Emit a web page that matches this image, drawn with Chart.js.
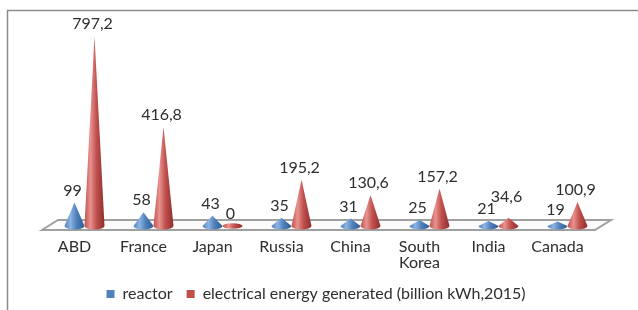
<!DOCTYPE html>
<html>
<head>
<meta charset="utf-8">
<script src="https://cdn.jsdelivr.net/npm/chart.js@4.4.1/dist/chart.umd.min.js"></script>
<style>
  html, body { margin: 0; padding: 0; background: #fff; }
  #wrap { width: 638px; height: 310px; }
</style>
</head>
<body>
<div id="wrap"><canvas id="chart"></canvas></div>
<script>
// values
const categories = ["ABD", "France", "Japan", "Russia", "China", ["South", "Korea"], "India", "Canada"];
const reactorCounts = [99, 58, 43, 35, 31, 25, 21, 19];
const energyGenerated = [797.2, 416.8, 0, 195.2, 130.6, 157.2, 34.6, 100.9];
const seriesNames = ["reactor", "electrical energy generated (billion kWh,2015)"];

const FONT = "Lato, 'Liberation Sans', sans-serif";
const TEXT = "#2e2e2e";

const palette = [
  { main: "#4f81bd", light: "#8db3e2", dark: "#2f5b8f" },
  { main: "#c0504d", light: "#e8928f", dark: "#8c2f2d" }
];

function fmt(v) {
  return String(v).replace(".", ",");
}

function drawCone(ctx, x, yTip, yBase, rx, ry, col) {
  const g = ctx.createLinearGradient(x - rx, 0, x + rx, 0);
  g.addColorStop(0, col.main);
  g.addColorStop(0.3, col.light);
  g.addColorStop(0.6, col.main);
  g.addColorStop(1, col.dark);
  ctx.save();
  ctx.fillStyle = g;
  ctx.beginPath();
  if (yBase - yTip < 1) {
    // zero value -> flat disc
    ctx.ellipse(x, yBase, rx, ry * 0.8, 0, 0, Math.PI * 2);
  } else {
    ctx.moveTo(x, yTip);
    ctx.lineTo(x - rx, yBase);
    ctx.ellipse(x, yBase, rx, ry, 0, Math.PI, 0, true);
    ctx.closePath();
  }
  ctx.fill();
  ctx.restore();
}

const conePlugin = {
  id: "cones",
  beforeDraw(chart) {
    const ctx = chart.ctx;
    ctx.save();
    ctx.fillStyle = "#fff";
    ctx.fillRect(0, 0, chart.width, chart.height);
    ctx.strokeStyle = "#8c8c8c";
    ctx.lineWidth = 1.5;
    ctx.strokeRect(7.5, 10.5, chart.width + 20, chart.height + 20);
    ctx.restore();
  },
  beforeDatasetsDraw(chart) {
    const ctx = chart.ctx;
    const ca = chart.chartArea;
    const b = ca.bottom;

    // floor of the 3d plot
    ctx.save();
    ctx.beginPath();
    ctx.moveTo(ca.left + 2, b + 4);
    ctx.lineTo(ca.left + 18, b - 6);
    ctx.lineTo(ca.right + 19, b - 6);
    ctx.lineTo(ca.right + 3, b + 4);
    ctx.closePath();
    ctx.fillStyle = "#fbfbfb";
    ctx.fill();
    ctx.strokeStyle = "#a0a0a0";
    ctx.lineWidth = 2;
    ctx.stroke();
    ctx.restore();

    ctx.save();
    ctx.font = "16px " + FONT;
    const labels = [];
    chart.data.labels.forEach((_, i) => {
      let prev = null;
      chart.data.datasets.forEach((ds, d) => {
        const el = chart.getDatasetMeta(d).data[i];
        const x = el.x + 10;
        drawCone(ctx, x, el.y, el.base, 10, 3.5, palette[d]);
        const t = fmt(ds.data[i]);
        const lab = { x: x - 2, y: el.y - 12, t: t, w: ctx.measureText(t).width };
        // push the label up if it runs into its neighbour
        if (prev && Math.abs(lab.x - prev.x) < (lab.w + prev.w) / 2 + 2 && Math.abs(lab.y - prev.y) < 14) {
          lab.y = prev.y - 12;
        }
        labels.push(lab);
        prev = lab;
      });
    });

    ctx.fillStyle = TEXT;
    ctx.textAlign = "center";
    ctx.textBaseline = "middle";
    labels.forEach(l => ctx.fillText(l.t, l.x, l.y));
    ctx.restore();
    return false;
  }
};

new Chart(document.getElementById("chart"), {
  type: "bar",
  data: {
    labels: categories,
    datasets: [
      { label: seriesNames[0], data: reactorCounts, backgroundColor: palette[0].main },
      { label: seriesNames[1], data: energyGenerated, backgroundColor: palette[1].main }
    ]
  },
  options: {
    responsive: true,
    maintainAspectRatio: false,
    animation: false,
    categoryPercentage: 0.58,
    barPercentage: 1,
    layout: { padding: { left: 40, right: 46, top: 26, bottom: -2 } },
    scales: {
      x: {
        grid: { display: false },
        border: { display: false },
        ticks: {
          color: TEXT,
          font: { family: FONT, size: 16, lineHeight: 1.0 },
          padding: 5,
          maxRotation: 0,
          autoSkip: false
        },
        afterFit(scale) {
          scale.height = 46;
        }
      },
      y: { display: false, min: 0, max: 840 }
    },
    plugins: {
      legend: {
        position: "bottom",
        labels: {
          color: TEXT,
          font: { family: FONT, size: 16 },
          boxWidth: 8,
          boxHeight: 8,
          padding: 14
        }
      },
      tooltip: { enabled: false }
    }
  },
  plugins: [conePlugin]
});
</script>
</body>
</html>
